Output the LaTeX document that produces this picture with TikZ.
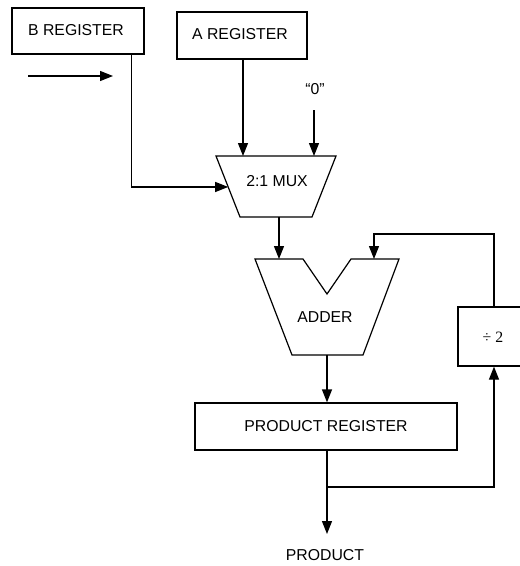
\documentclass[tikz,border=0pt]{standalone}
\usepackage{fontspec}
\setmainfont{Liberation Sans}
\newfontfamily\serifdiv{Liberation Serif}
\usetikzlibrary{arrows.meta,calc}
\begin{document}
\begin{tikzpicture}[x=1pt,y=-1pt,
  line width=1.2pt,
  every node/.style={font=\fontsize{15.8}{18}\selectfont},
  regbox/.style={draw,rectangle,inner sep=0pt,line width=1.2pt},
  arr/.style={-{Triangle[length=13pt,width=10pt]}},
  lbl/.style={inner sep=0pt}]
\useasboundingbox (0,0) rectangle (520,566);
\clip (0,0) rectangle (520,566);

% registers
\node[regbox,minimum width=132pt,minimum height=46pt] (breg) at (78,31) {};
\node[lbl] at (76,30) {B REGISTER};
\node[regbox,minimum width=130pt,minimum height=47pt] (areg) at (242,35.5) {};
\node[lbl] at (240,34) {A REGISTER};
\node[regbox,minimum width=262pt,minimum height=47pt] (preg) at (326,426.5) {PRODUCT REGISTER};
\node[regbox,minimum width=72pt,minimum height=59pt] (div) at (494,336.5) {};
\node[lbl,font=\serifdiv\fontsize{15.8}{18}\selectfont] at (493,337) {÷ 2};

% MUX
\coordinate (mtl) at (216,156);
\coordinate (mtr) at (336,156);
\coordinate (mbr) at (312,217);
\coordinate (mbl) at (240,217);
\draw[line join=miter] (mtl) -- (mtr) -- (mbr) -- (mbl) -- cycle;
\node[lbl] (mux) at (277,181) {2:1 MUX};
\coordinate (muxinA) at (243,156);
\coordinate (muxinZ) at (314,156);
\coordinate (muxinB) at ($(mtl)!0.508!(mbl)$);
\coordinate (muxout) at (279,217);

% ADDER
\draw[line join=miter] (255,259) -- (303,259) -- (327,294) -- (351,259) -- (399,259)
  -- (363,355) -- (292,355) -- cycle;
\node[lbl] (adder) at (325,317) {ADDER};
\coordinate (addinL) at (279,259);
\coordinate (addinR) at (374,259);
\coordinate (addout) at (327,355);

% inputs
\coordinate (leftA) at (28,76);
\coordinate (leftB) at (113,76);
\draw[arr] (leftA) -- (leftB);
\node[lbl] (zero) at (315,89) {“0”};
\coordinate (zerotop) at (314,110);

% connectors
\draw[arr] (breg.south east) ++(-13,0) |- (muxinB);
\draw[arr] (areg.south) ++(1,0) -- (muxinA);
\draw[arr] (zerotop) -- (muxinZ);
\draw[arr] (muxout) -- (addinL);
\draw[arr] (addout) -- (addout |- preg.north);
\node[lbl] (prod) at (325,555) {PRODUCT};
\draw[arr] (preg.south -| addout) -- (327,534);
\coordinate (branch) at (327,487);
\draw[arr] (branch) -| (div.south);
\draw[arr] (div.north) |- (374,234) -- (addinR);
\end{tikzpicture}
\end{document}
